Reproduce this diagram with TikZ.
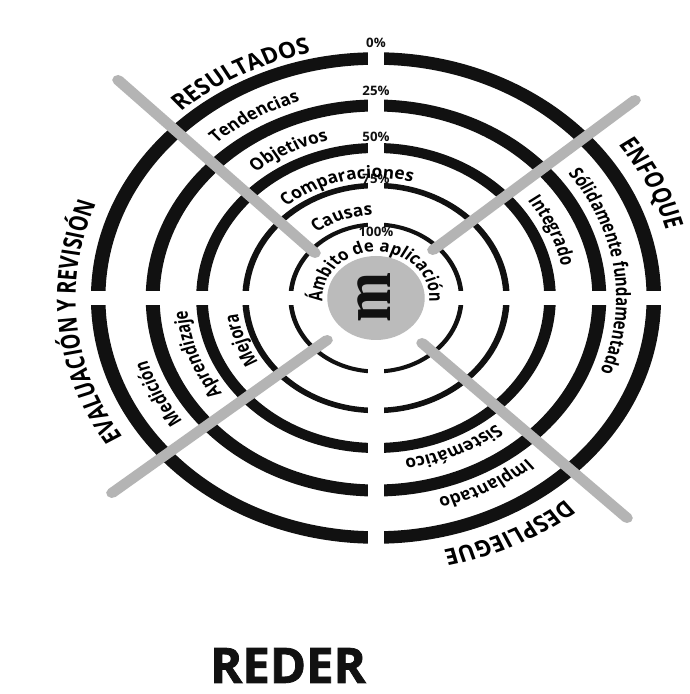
\documentclass[tikz,border=0pt]{standalone}
\usepackage{fontspec}
\setmainfont{Open Sans}
\newfontfamily\labelfont{Open Sans}[FakeStretch=0.88]
\newfontfamily\heavyfont{Open Sans}[BoldFeatures={FakeBold=1.5}]
\newfontfamily\mserif{Liberation Serif}
\usetikzlibrary{decorations.text}

\definecolor{bar}{HTML}{B4B4B4}
\definecolor{disc}{HTML}{BBBBBB}
\definecolor{ink}{HTML}{111111}

\tikzset{
  ringline/.style={draw=ink, line width=#1},
  spoke/.style={draw=bar, line width=10pt, line cap=round},
  gapband/.style={fill=white, draw=none},
  pct/.style={font=\labelfont\bfseries\fontsize{13}{13}\selectfont, inner sep=0pt, text=ink},
}
\newcommand\outerfont{\labelfont\bfseries\fontsize{22.5}{22.5}\selectfont}
\newcommand\midfont{\labelfont\bfseries\fontsize{17}{17}\selectfont}
\newcommand\innerfont{\labelfont\bfseries\fontsize{16.5}{16.5}\selectfont}

% text set clockwise along a circle: centre angle, baseline radius, font, text
\newcommand\curvedlabel[4]{%
  \path[decorate, decoration={text along path, text align=center, text={|#3|#4}}]
    ({#1+80}:#2) arc[start angle={#1+80}, end angle={#1-80}, radius=#2];}

\begin{document}
\begin{tikzpicture}[x=1pt, y=1pt]
\useasboundingbox[fill=white] (0,0) rectangle (689,694);
\begin{scope}[transform canvas={shift={(376,396)}, xscale=1.16}]
  % concentric rings
  \draw[ringline=12.5pt] (0,0) circle[radius=239.5];
  \draw[ringline=12pt]   (0,0) circle[radius=192.5];
  \draw[ringline=10pt]   (0,0) circle[radius=150];
  \draw[ringline=5.5pt]  (0,0) circle[radius=112.5];
  \draw[ringline=4pt]    (0,0) circle[radius=73.5];
  % cuts along the axes
  \fill[gapband] (-6.5,62) rectangle (6.5,254);
  \fill[gapband] (-6.5,-62) rectangle (6.5,-254);
  \fill[gapband] (62,-7) rectangle (254,7);
  \fill[gapband] (-62,-7) rectangle (-254,7);
  % centre disc
  \fill[disc] (0,0) circle[radius=42];
  \node[rotate=90, font=\mserif\bfseries\fontsize{60}{60}\selectfont, text=ink, inner sep=0pt] (m) at (-2,0) {m};
  % diagonal spokes
  \coordinate (tlin) at (-52.6,45);   \coordinate (tlout) at (-222.4,218);
  \coordinate (trin) at (49.1,48);    \coordinate (trout) at (223.3,198);
  \coordinate (blin) at (-42.2,-42);  \coordinate (blout) at (-227.6,-195);
  \coordinate (brin) at (39.7,-45);   \coordinate (brout) at (216.4,-220);
  \draw[spoke] (tlin) -- (tlout);
  \draw[spoke] (trin) -- (trout);
  \draw[spoke] (blin) -- (blout);
  \draw[spoke] (brin) -- (brout);
  % percentage marks
  \node[pct] (p0)   at (0,255) {0\%};
  \node[pct] (p25)  at (0,207) {25\%};
  \node[pct] (p50)  at (0,161) {50\%};
  \node[pct] (p75)  at (0,119) {75\%};
  \node[pct] (p100) at (0,66)  {100\%};
  % outer headings
  \curvedlabel{117.5}{251}{\outerfont}{RESULTADOS}
  \curvedlabel{25.7}{259}{\outerfont}{ENFOQUE}
  \curvedlabel{-64}{259}{\outerfont}{DESPLIEGUE}
  \curvedlabel{185.6}{259}{\outerfont}{EVALUACIÓN Y REVISIÓN}
  % first band
  \curvedlabel{120}{207}{\midfont}{Tendencias}
  \curvedlabel{8}{207}{\midfont}{Sólidamente fundamentado}
  \curvedlabel{-63}{207}{\midfont}{Implantado}
  \curvedlabel{207}{207}{\midfont}{Medición}
  % second band
  \curvedlabel{117}{163}{\midfont}{Objetivos}
  \curvedlabel{24}{163}{\midfont}{Integrado}
  \curvedlabel{-66}{163}{\midfont}{Sistemático}
  \curvedlabel{200}{163}{\midfont}{Aprendizaje}
  % third band
  \curvedlabel{102.5}{120}{\midfont}{Comparaciones}
  \curvedlabel{200}{120}{\midfont}{Mejora}
  % fourth band
  \curvedlabel{110}{83}{\midfont}{Causas}
  % around the disc
  \path[decorate, decoration={text along path, text align=center, text={|\innerfont|Ámbito de aplicación}}]
    (200:46) arc[start angle=200, end angle=-20, radius=46];
\end{scope}
\node[font=\heavyfont\bfseries\fontsize{49}{49}\selectfont, anchor=base, inner sep=0pt, text=ink] (title) at (288,11) {REDER};
\end{tikzpicture}
\end{document}
